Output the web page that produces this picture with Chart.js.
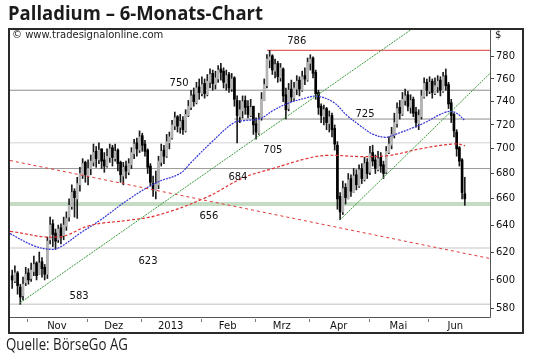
<!DOCTYPE html>
<html>
<head>
<meta charset="utf-8">
<script src="https://cdn.jsdelivr.net/npm/chart.js@4.4.0/dist/chart.umd.min.js"></script>
<style>
    html, body { margin: 0; padding: 0; background: #fff; }
    canvas { display: block; }
</style>
</head>
<body>
<canvas id="chart" width="540" height="361"></canvas>
<script>
// --- Data (one entry per trading day, index 0 = late October 2012) ---
const opens = [
    603, 599, 605, 595, 589, 598, 605, 601, 606, 612,
    604, 613, 609, 604, 629, 641, 634, 629, 638, 632,
    639, 646, 654, 666, 660, 671, 679, 689, 678, 684,
    689, 698, 691, 700, 691, 686, 693, 701, 692, 699,
    689, 678, 686, 681, 687, 696, 705, 699, 711, 704,
    699, 686, 672, 666, 671, 689, 699, 694, 705, 709,
    719, 727, 718, 724, 715, 728, 735, 746, 739, 753,
    747, 756, 746, 757, 765, 755, 760, 769, 767, 756,
    764, 751, 761, 741, 727, 732, 741, 736, 728, 736,
    721, 713, 726, 741, 754, 777, 781, 767, 774, 761,
    769, 746, 734, 751, 743, 751, 759, 750, 763, 759,
    774, 779, 766, 748, 736, 727, 734, 721, 728, 717,
    703, 662, 650, 669, 660, 676, 665, 679, 670, 684,
    675, 689, 681, 697, 691, 683, 693, 687, 681, 697,
    703, 711, 721, 735, 729, 741, 746, 735, 742, 731,
    721, 727, 744, 757, 749, 758, 747, 753, 759, 749,
    763, 755, 739, 729, 714, 701, 691, 664
];
const highs = [
    607, 610, 606, 597, 602, 609, 608, 612, 617, 613,
    620, 616, 611, 631, 646, 644, 637, 640, 641, 646,
    650, 660, 671, 668, 677, 685, 692, 690, 691, 695,
    704, 702, 705, 700, 697, 700, 704, 703, 704, 700,
    690, 689, 690, 692, 701, 708, 709, 715, 713, 707,
    700, 688, 678, 682, 694, 704, 703, 712, 714, 724,
    731, 728, 729, 727, 733, 741, 750, 752, 757, 760,
    762, 760, 764, 769, 768, 767, 772, 774, 770, 768,
    766, 765, 762, 745, 741, 745, 745, 741, 742, 736,
    726, 730, 748, 760, 782, 786, 782, 778, 776, 774,
    770, 752, 756, 759, 757, 763, 762, 767, 770, 779,
    782, 780, 768, 750, 738, 737, 735, 732, 730, 720,
    706, 665, 674, 672, 680, 679, 684, 683, 687, 688,
    693, 692, 702, 703, 695, 698, 697, 690, 702, 710,
    718, 730, 739, 741, 748, 751, 749, 746, 744, 735,
    733, 750, 761, 760, 762, 760, 761, 763, 762, 766,
    769, 757, 742, 730, 716, 702, 692, 677
];
const lows = [
    594, 598, 590, 583, 586, 596, 597, 599, 603, 600,
    604, 602, 600, 601, 626, 624, 622, 627, 626, 629,
    636, 643, 652, 646, 645, 666, 676, 673, 671, 679,
    686, 685, 688, 684, 681, 685, 689, 686, 690, 682,
    673, 671, 676, 679, 684, 692, 694, 697, 698, 694,
    680, 670, 662, 660, 668, 686, 688, 693, 700, 708,
    716, 714, 713, 712, 714, 727, 733, 736, 738, 742,
    745, 743, 745, 752, 750, 751, 757, 759, 752, 750,
    748, 749, 736, 705, 722, 726, 729, 726, 727, 712,
    708, 712, 724, 741, 752, 770, 764, 761, 757, 758,
    740, 725, 732, 740, 741, 746, 745, 749, 755, 758,
    768, 761, 742, 729, 722, 720, 716, 714, 710, 699,
    652, 644, 648, 656, 660, 662, 665, 667, 669, 672,
    674, 676, 679, 686, 680, 682, 681, 676, 680, 696,
    700, 709, 718, 725, 728, 737, 732, 730, 727, 718,
    716, 725, 743, 745, 747, 743, 746, 748, 745, 748,
    750, 734, 722, 710, 694, 686, 660, 655
];
const closes = [
    600, 605, 596, 588, 597, 604, 600, 607, 611, 603,
    612, 608, 604, 628, 640, 633, 628, 637, 631, 640,
    645, 655, 665, 661, 672, 680, 688, 679, 684, 690,
    697, 692, 699, 690, 686, 694, 700, 693, 698, 688,
    679, 685, 682, 688, 697, 704, 700, 710, 703, 698,
    685, 673, 667, 672, 690, 698, 694, 706, 710, 720,
    726, 719, 723, 716, 729, 736, 745, 740, 752, 748,
    755, 747, 758, 764, 756, 761, 768, 766, 757, 763,
    752, 760, 742, 728, 733, 740, 735, 729, 735, 720,
    714, 725, 742, 755, 778, 780, 768, 773, 762, 770,
    745, 733, 750, 744, 752, 758, 751, 762, 760, 775,
    778, 765, 747, 735, 728, 733, 722, 727, 716, 704,
    660, 650, 668, 661, 675, 666, 678, 671, 683, 676,
    688, 680, 696, 690, 684, 692, 686, 680, 698, 704,
    712, 722, 734, 730, 742, 745, 736, 741, 730, 722,
    728, 745, 756, 750, 757, 748, 754, 758, 750, 762,
    754, 738, 728, 715, 700, 690, 665, 660
];

// moving averages (day index, price)
const maBlueX = [-0.8, 7.7, 14, 17.6, 25, 32.4, 43.5, 53.4, 61.9, 66, 73.4, 81.8, 85.5, 91.4, 96.2, 101.4, 108.8, 112.5, 118.4, 123.5, 128.3, 132.8, 137.6, 140.1, 151.2, 159.7, 163.4, 167.1];
const maBlueY = [633.6, 624.9, 622.0, 623.5, 633.8, 643.6, 660.4, 672.9, 680.0, 688.9, 705.2, 721.9, 723.6, 725.3, 732.2, 738.2, 743.4, 744.7, 739.7, 728.1, 719.6, 712.5, 709.6, 711.0, 720.8, 730.7, 730.7, 723.6];
const maRedX = [-0.8, 16.9, 29.1, 42.7, 53.4, 70.8, 85.5, 96.2, 108.8, 116.2, 128.3, 138.7, 151.2, 163.4, 167.1];
const maRedY = [635.3, 631.1, 639.9, 643.6, 647.3, 660.4, 676.8, 684.0, 692.1, 694.7, 693.7, 694.5, 700.3, 704.1, 702.7];

// trend lines: [day index, price] end points
const trendNov = [[2.9, 584], [147.5, 806]];
const trendApr = [[121, 644], [176.3, 765]];
const trendDown = [[-0.8, 690.5], [176.3, 615.3]];

// horizontal marks
const levelValues = [786, 750, 725, 705, 684, 656, 623, 583];
const levelFrom = [94, -0.8, 82, -0.8, -0.8, -0.8, -0.8, -0.8];
const levelLabelAt = [105, 61.6, 130.2, 96.2, 83.3, 72.6, 50.1, 24.7];

// axes
const monthLabels = ['Nov', 'Dez', '2013', 'Feb', 'Mrz', 'Apr', 'Mai', 'Jun'];
const monthBounds = [5.5, 27.5, 47.5, 69.5, 89.5, 109.5, 131.5, 153.5, 173.5];
const priceTicks = [580, 600, 620, 640, 660, 680, 700, 720, 740, 760, 780];

// --- Styles ---
const X_MIN = -0.8;
const X_MAX = 176.3;
const levelStyles = [
    { color: '#e26262', width: 1.2 },
    { color: '#8c8c8c', width: 1 },
    { color: '#8c8c8c', width: 1 },
    { color: '#d2d2d2', width: 1 },
    { color: '#9a9a9a', width: 1 },
    { color: '#c4dcc4', width: 4 },
    { color: '#d8d8d8', width: 1.5 },
    { color: '#d4d4d4', width: 1.5 }
];
const labelOffsets = [-9, -7, -5, 8, 9, 12, 13, -8];
const SMALL_FONT = '10px "DejaVu Sans"';

const toPoints = (xs, ys) => xs.map((x, i) => ({ x: x, y: ys[i] }));
const pairPoints = (pair) => pair.map(p => ({ x: p[0], y: p[1] }));

const lineSet = (data, color, width, dash, order, tension) => ({
    type: 'line',
    data: data,
    borderColor: color,
    borderWidth: width,
    borderDash: dash,
    pointRadius: 0,
    tension: tension || 0,
    fill: false,
    order: order
});

// --- Datasets ---
const datasets = [];

levelValues.forEach((v, k) => {
    datasets.push(lineSet([{ x: levelFrom[k], y: v }, { x: X_MAX, y: v }],
        levelStyles[k].color, levelStyles[k].width, [], 10));
});

// candles: wick then body
datasets.push({
    type: 'bar',
    data: highs.map((h, i) => ({ x: i, y: [lows[i], h] })),
    backgroundColor: '#1c1c1c',
    barThickness: 1,
    grouped: false,
    order: 6
});
datasets.push({
    type: 'bar',
    data: opens.map((o, i) => ({ x: i, y: [o, closes[i]] })),
    backgroundColor: opens.map((o, i) => closes[i] < o ? '#000000' : '#b4b4b4'),
    barThickness: 2,
    grouped: false,
    order: 5
});

datasets.push(lineSet(pairPoints(trendDown), '#e23a3a', 1, [3, 3], 2));
datasets.push(lineSet(toPoints(maRedX, maRedY), '#e23030', 1.2, [3, 2], 2, 0.4));
datasets.push(lineSet(toPoints(maBlueX, maBlueY), '#3434d8', 1.2, [2, 1], 2, 0.4));
datasets.push(lineSet(pairPoints(trendNov), '#3a9a3a', 1, [2, 1], 1));
datasets.push(lineSet(pairPoints(trendApr), '#3a9a3a', 1, [2, 1], 1));

// --- Decorations (title, frame, labels) ---
const decor = {
    id: 'decor',
    beforeDraw(chart) {
        const ctx = chart.ctx;
        ctx.save();
        ctx.fillStyle = '#ffffff';
        ctx.fillRect(0, 0, chart.width, chart.height);
        ctx.restore();
    },
    afterDatasetsDraw(chart) {
        const { ctx, scales: { x, y } } = chart;
        ctx.save();
        ctx.font = SMALL_FONT;
        ctx.fillStyle = '#111';
        ctx.textAlign = 'center';
        ctx.textBaseline = 'middle';
        levelValues.forEach((v, k) => {
            ctx.fillText(String(v), x.getPixelForValue(levelLabelAt[k]), y.getPixelForValue(v) + labelOffsets[k]);
        });
        ctx.restore();
    },
    afterDraw(chart) {
        const { ctx, chartArea: a, scales: { x } } = chart;
        ctx.save();

        // plot border
        ctx.strokeStyle = '#555';
        ctx.lineWidth = 1;
        ctx.beginPath();
        ctx.moveTo(a.right + 0.5, a.top);
        ctx.lineTo(a.right + 0.5, a.bottom + 0.5);
        ctx.lineTo(a.left, a.bottom + 0.5);
        ctx.stroke();

        // month separators under the axis
        ctx.strokeStyle = '#777';
        ctx.beginPath();
        monthBounds.slice(0, -1).forEach(b => {
            const px = Math.round(x.getPixelForValue(b)) + 0.5;
            ctx.moveTo(px, a.bottom + 2);
            ctx.lineTo(px, a.bottom + 5);
        });
        ctx.stroke();

        // outer frame
        ctx.strokeStyle = '#2a2a2a';
        ctx.lineWidth = 2;
        ctx.strokeRect(9, 29, 514, 304);

        // texts
        ctx.fillStyle = '#1b1b1b';
        ctx.textAlign = 'left';
        ctx.textBaseline = 'alphabetic';
        ctx.font = 'bold 20px "Open Sans"';
        ctx.fillText('Palladium \u2013 6-Monats-Chart', 8, 20, 255);

        ctx.font = SMALL_FONT;
        ctx.fillStyle = '#222';
        ctx.fillText('\u00a9 www.tradesignalonline.com', 12, 38, 158);
        ctx.fillText('$', 495, 38);

        ctx.font = '16px "Open Sans"';
        ctx.fillStyle = '#1b1b1b';
        ctx.fillText('Quelle: B\u00f6rseGo AG', 6, 350, 122);
        ctx.restore();
    }
};

// --- Chart ---
new Chart(document.getElementById('chart'), {
    type: 'bar',
    data: { datasets: datasets },
    plugins: [decor],
    options: {
        responsive: false,
        animation: false,
        devicePixelRatio: 1,
        layout: { padding: { left: 10, right: 17, top: 29, bottom: 28 } },
        plugins: {
            legend: { display: false },
            tooltip: { enabled: false }
        },
        scales: {
            x: {
                type: 'linear',
                min: X_MIN,
                max: X_MAX,
                offset: false,
                afterBuildTicks: (s) => {
                    s.ticks = monthLabels.map((m, k) => ({ value: (monthBounds[k] + monthBounds[k + 1]) / 2 }));
                },
                afterFit: (s) => { s.height = 16; },
                ticks: {
                    callback: (v, k) => monthLabels[k],
                    autoSkip: false,
                    maxRotation: 0,
                    padding: 3,
                    font: { family: 'DejaVu Sans', size: 10 },
                    color: '#111'
                },
                grid: { display: false, drawTicks: false },
                border: { display: false }
            },
            y: {
                type: 'logarithmic',
                position: 'right',
                min: 574.4,
                max: 806,
                afterBuildTicks: (s) => {
                    s.ticks = priceTicks.map(v => ({ value: v }));
                },
                afterFit: (s) => { s.width = 33; },
                ticks: {
                    callback: (v) => String(v),
                    autoSkip: false,
                    padding: 2,
                    font: { family: 'DejaVu Sans', size: 10 },
                    color: '#111'
                },
                grid: { drawOnChartArea: false, drawTicks: true, tickLength: 4, color: '#444' },
                border: { display: false }
            }
        }
    }
});
</script>
</body>
</html>
